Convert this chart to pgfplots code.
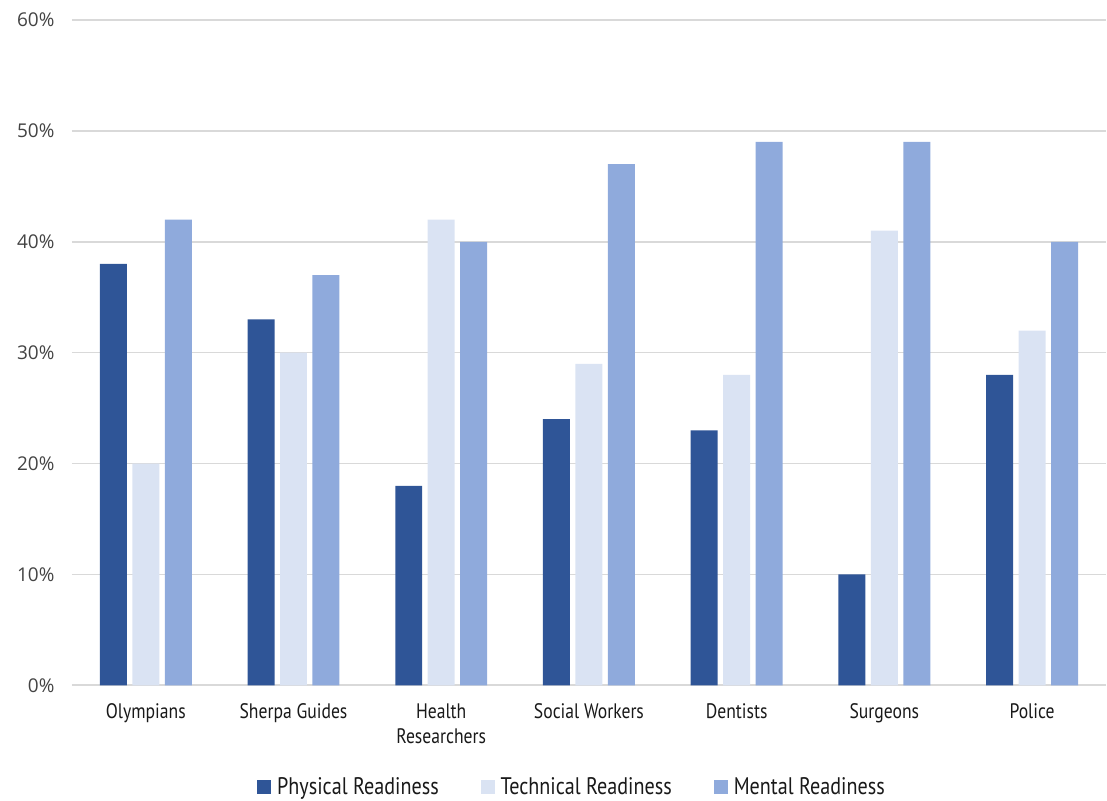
\documentclass[border=0pt]{standalone}
\usepackage{pgfplots}
\pgfplotsset{compat=1.18}
\usepackage{fontspec}
\setmainfont{Open Sans}
\newfontfamily\cond{PT Sans}[FakeStretch=0.84]
\definecolor{cdark}{HTML}{2F5597}
\definecolor{clight}{HTML}{DAE3F3}
\definecolor{cmid}{HTML}{8FAADC}
\definecolor{cgrid}{HTML}{D9D9D9}
\definecolor{ctick}{HTML}{595959}
\begin{document}
\begin{tikzpicture}
\path (0,0) rectangle (1107pt,801pt);
\begin{axis}[
  at={(72pt,115pt)}, anchor=south west,
  scale only axis, width=1035pt, height=666pt,
  ymin=0, ymax=60, ytick={0,10,...,60},
  xmin=-0.5, xmax=6.5,
  xtick={0,...,6},
  xticklabels={Olympians,Sherpa Guides,Health\\Researchers,Social Workers,Dentists,Surgeons,Police},
  ybar=5.5pt, bar width=27pt,
  axis line style={draw=none},
  axis x line*=bottom,
  ymajorgrids, grid style={cgrid, line width=1.6pt},
  major tick length=0pt,
  tick style={draw=none},
  /pgf/number format/assume math mode=true,
  yticklabel={\pgfmathprintnumber{\tick}\%},
  yticklabel style={font=\fontsize{19}{22}\selectfont, text=ctick!75!black, anchor=east, xshift=-14pt},
  xticklabel style={font=\cond\fontsize{21}{25}\selectfont, text=black!90, align=center, anchor=north, yshift=-15pt},
  extra y ticks={0}, extra y tick labels={},
  extra y tick style={grid style={cgrid, line width=2.2pt}},
  legend columns=3,
  legend style={draw=none, at={(0.4836,-0.152)}, anchor=center, font=\cond\fontsize{24}{28}\selectfont, text=black!90,
    /tikz/every odd column/.append style={column sep=4pt},
    /tikz/every even column/.append style={column sep=40pt}},
  legend image code/.code={\fill[#1] (0pt,-7pt) rectangle (14pt,7pt);},
]
\addplot[fill=cdark, draw=none] coordinates {(0,38) (1,33) (2,18) (3,24) (4,23) (5,10) (6,28)};
\addplot[fill=clight, draw=none] coordinates {(0,20) (1,30) (2,42) (3,29) (4,28) (5,41) (6,32)};
\addplot[fill=cmid, draw=none] coordinates {(0,42) (1,37) (2,40) (3,47) (4,49) (5,49) (6,40)};
\legend{Physical Readiness,Technical Readiness,Mental Readiness}
\end{axis}
\end{tikzpicture}
\end{document}
